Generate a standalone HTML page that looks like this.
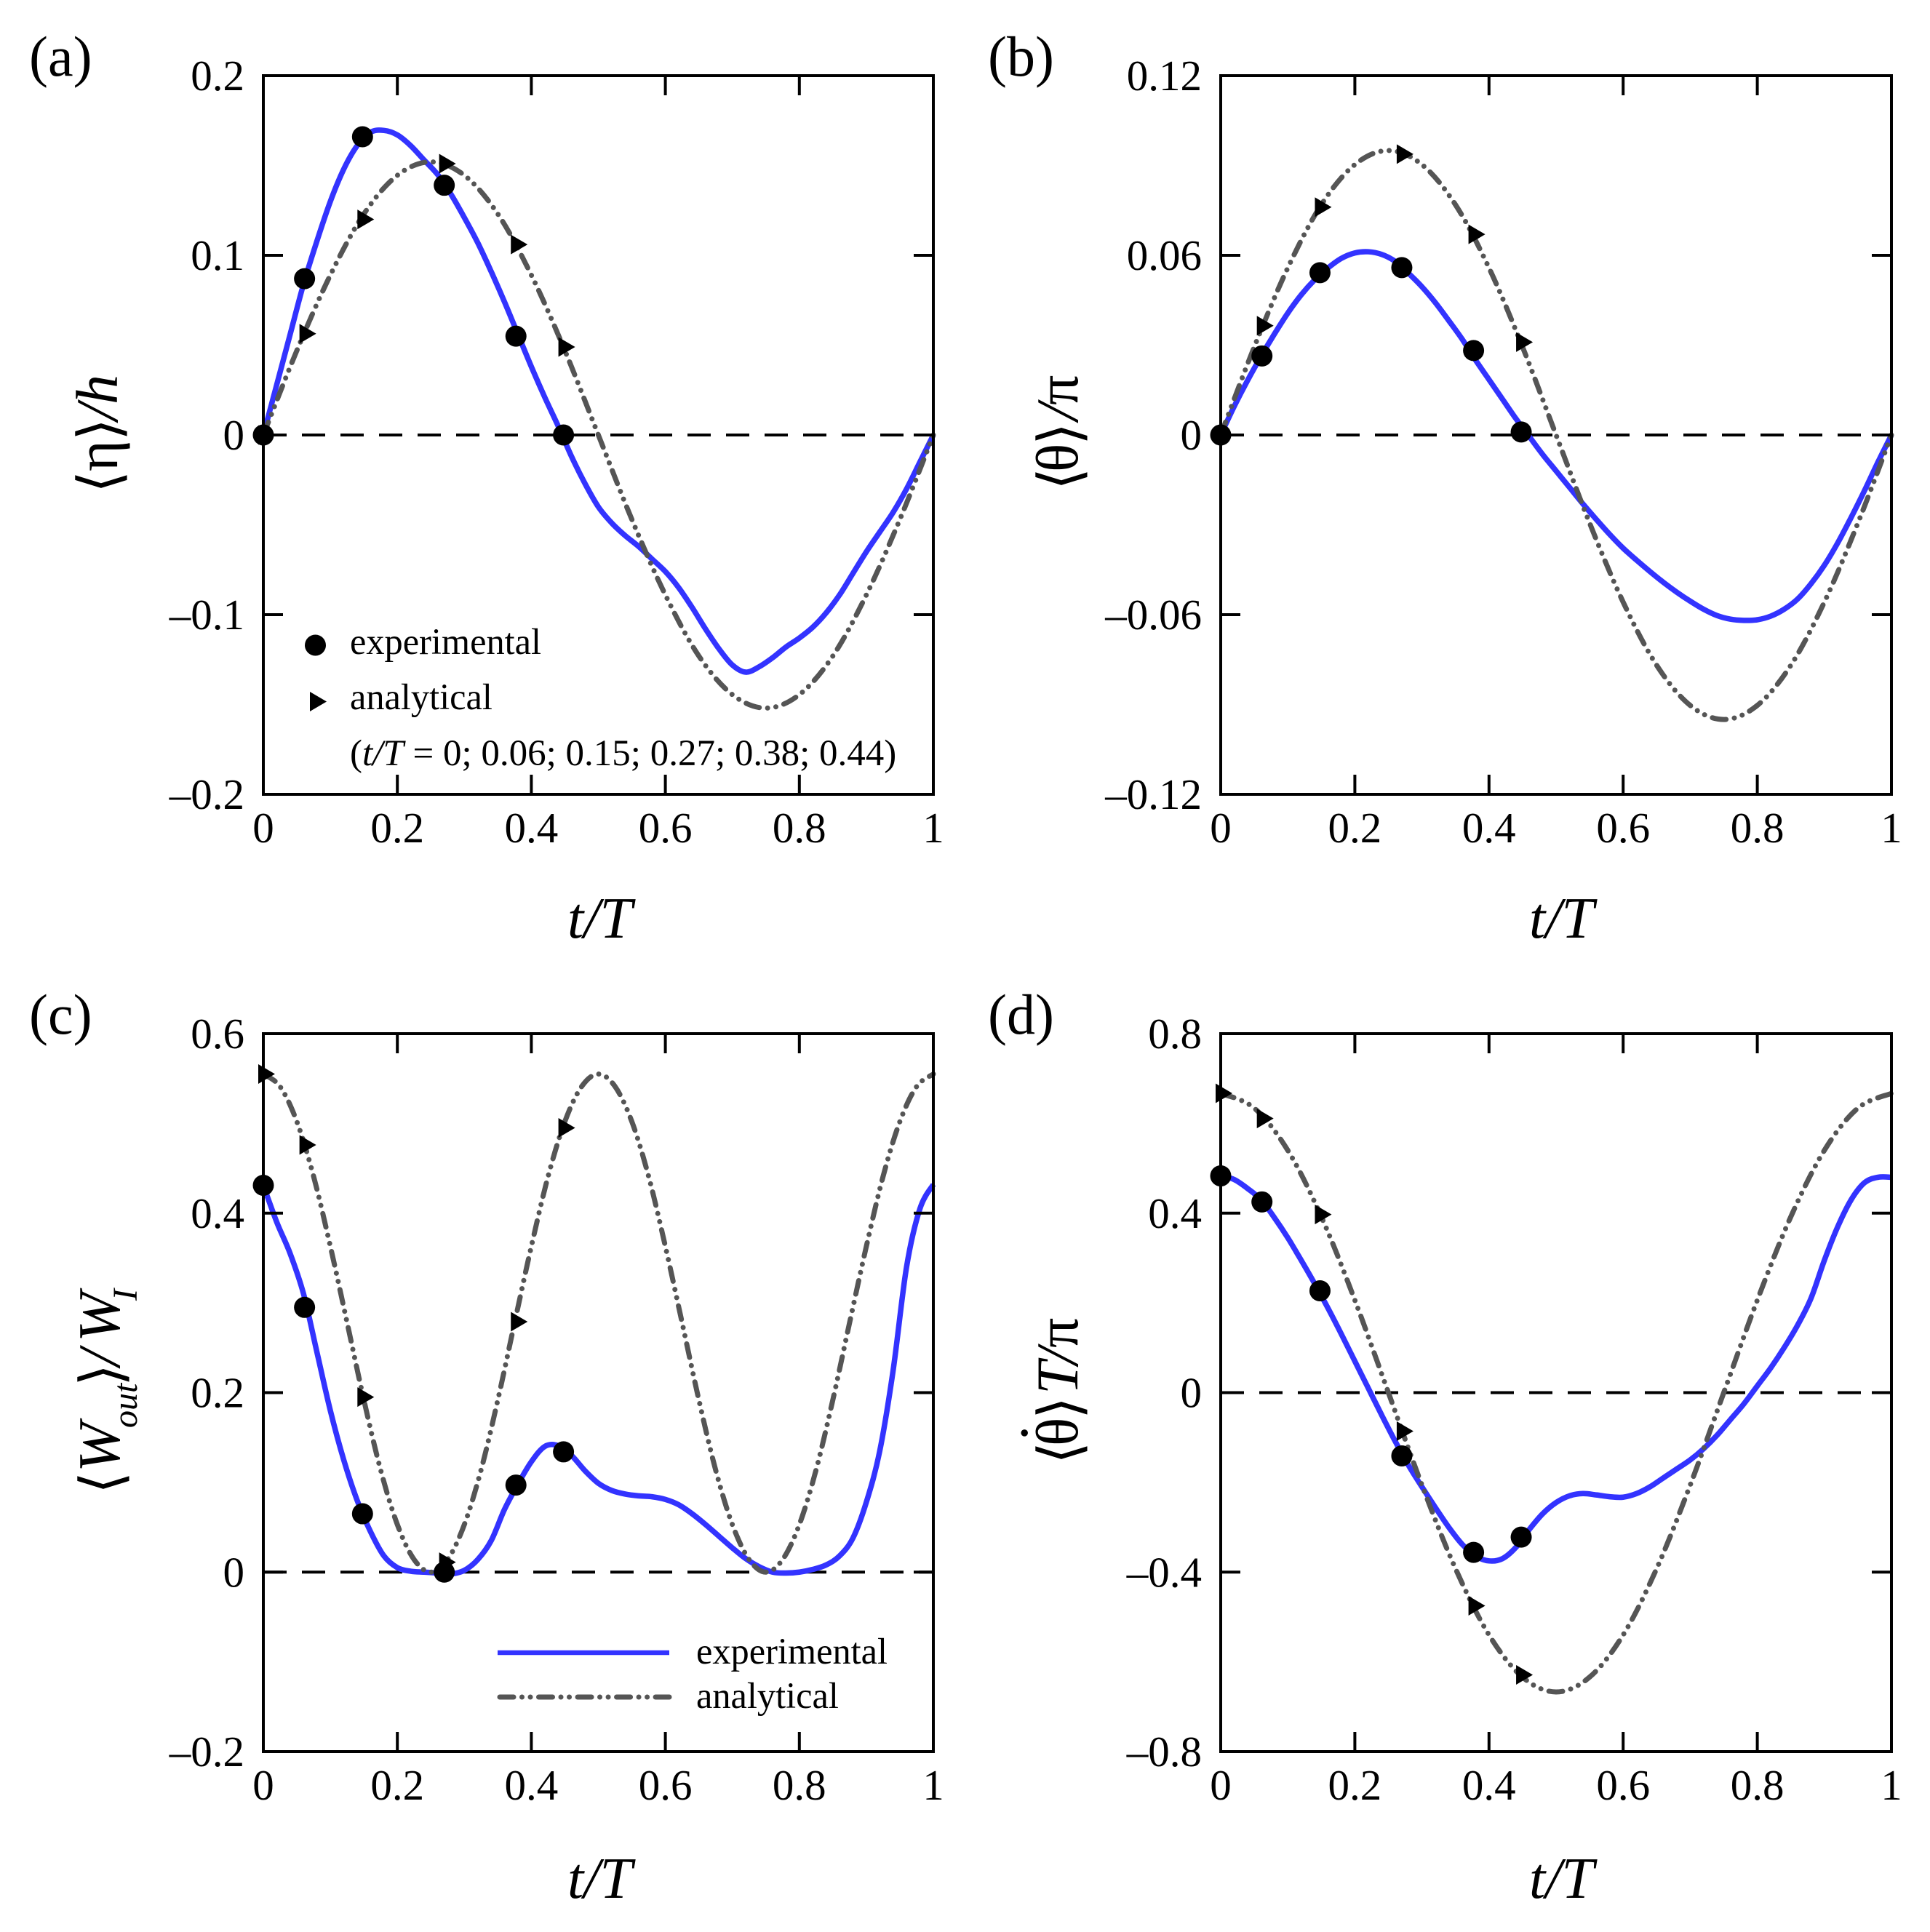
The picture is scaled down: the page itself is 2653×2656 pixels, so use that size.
<!DOCTYPE html>
<html lang="en">
<head>
<meta charset="utf-8">
<title>Four panel time series chart</title>
<style>
html,body{margin:0;padding:0;background:#fff;}
svg{display:block;}
text{font-family:"Liberation Serif","DejaVu Serif",serif;fill:#000;}
.tick-label{font-size:59px;}
.legend-text{font-size:50.4px;}
.legend-note{font-size:51px;}
.panel-label{font-size:78px;}
.axis-label{font-size:80px;font-style:italic;}
.ylab{font-size:82px;}
.br{font-family:"DejaVu Sans",sans-serif;font-size:80px;}
.it{font-style:italic;}
.sub{font-size:48px;font-style:italic;}
</style>
</head>
<body>
<svg id="figure" xmlns="http://www.w3.org/2000/svg" width="2653" height="2656" viewBox="0 0 2653 2656">
<rect x="0" y="0" width="2653" height="2656" fill="#ffffff"/>

<g id="panel-a">
  <text class="panel-label" x="40" y="104">(a)</text>
  <text class="axis-label" x="780" y="1289">t/T</text>
  <text class="ylab" transform="translate(161,678) rotate(-90)"><tspan class="br" x="0" y="3">⟨</tspan><tspan x="30" y="0">η</tspan><tspan class="br" x="72" y="3">⟩</tspan><tspan class="it" x="100" y="0">/</tspan><tspan class="it" x="122" y="0">h</tspan></text>
</g>

<g id="panel-b">
  <text class="panel-label" x="1358" y="104">(b)</text>
  <text class="axis-label" x="2102" y="1289">t/T</text>
  <text class="ylab" transform="translate(1481,674) rotate(-90)"><tspan class="br" x="0" y="3">⟨</tspan><tspan x="25" y="0">θ</tspan><tspan class="br" x="62" y="3">⟩</tspan><tspan class="it" x="96" y="0">/</tspan><tspan x="117" y="0">π</tspan></text>
</g>

<g id="panel-c">
  <text class="panel-label" x="40" y="1421">(c)</text>
  <text class="axis-label" x="780" y="2609">t/T</text>
  <text class="ylab" transform="translate(164,2054) rotate(-90)"><tspan class="br" x="0" y="3">⟨</tspan><tspan class="it" x="30" y="0">W</tspan><tspan class="sub" x="91" y="24">out</tspan><tspan class="br" x="148" y="3">⟩</tspan><tspan class="it" x="176" y="0">/</tspan><tspan class="it" x="209" y="0">W</tspan><tspan class="sub" x="266" y="24">I</tspan></text>
</g>

<g id="panel-d">
  <text class="panel-label" x="1358" y="1421">(d)</text>
  <text class="axis-label" x="2102" y="2609">t/T</text>
  <text class="ylab" transform="translate(1481,2013) rotate(-90)"><tspan class="br" x="0" y="3">⟨</tspan><tspan x="25" y="0">θ</tspan><tspan x="28" y="-18" style="font-size:90px">˙</tspan><tspan class="br" x="62" y="3">⟩</tspan><tspan class="it" x="96" y="0">T</tspan><tspan class="it" x="137" y="0">/</tspan><tspan x="160" y="0">π</tspan></text>
</g>

<g id="overlay"></g>
</svg>

<script>
// Shared axis values
const xDomain = [0, 1];
const xTickValues = [0, 0.2, 0.4, 0.6, 0.8, 1];
const xTickLabels = ["0", "0.2", "0.4", "0.6", "0.8", "1"];

// Sampling instants
const expCurveT = [0,.02,.04,.06,.08,.1,.12,.14,.16,.18,.2,.22,.24,.26,.28,.3,.32,.34,.36,.38,.4,.42,.44,.46,.48,.5,.52,.54,.56,.58,.6,.62,.64,.66,.68,.7,.72,.74,.76,.78,.8,.82,.84,.86,.88,.9,.92,.94,.96,.98,1];
const anaCurveT = [0,.05,.1,.15,.2,.25,.3,.35,.4,.45,.5,.55,.6,.65,.7,.75,.8,.85,.9,.95,1];
const anaCurveTFine = [0,.025,.05,.075,.1,.125,.15,.175,.2,.225,.25,.275,.3,.325,.35,.375,.4,.425,.45,.475,.5,.525,.55,.575,.6,.625,.65,.675,.7,.725,.75,.775,.8,.825,.85,.875,.9,.925,.95,.975,1];
const markerT = [0,.0615,.148,.27,.377,.448];

// Panel a
const yDomainA = [-0.2, 0.2];
const yTickValuesA = [0.2, 0.1, 0, -0.1, -0.2];
const yTickLabelsA = ["0.2", "0.1", "0", "–0.1", "–0.2"];
const expCurveA = [0,.028,.056,.084,.108,.13,.148,.161,.1685,.1695,.167,.161,.153,.145,.134,.121,.107,.091,.074,.056,.038,.021,.005,-.012,-.027,-.04,-.049,-.056,-.062,-.069,-.076,-.085,-.096,-.108,-.119,-.128,-.132,-.129,-.124,-.118,-.113,-.107,-.099,-.089,-.077,-.065,-.054,-.043,-.03,-.015,0];
const anaCurveA = [0,.047,.089,.123,.1445,.152,.1445,.123,.089,.047,0,-.047,-.089,-.123,-.1445,-.152,-.1445,-.123,-.089,-.047,0];
const expMarkA = [0,.087,.166,.139,.055,0];
const anaMarkA = [0,.0564,.12,.151,.106,.049];

// Panel b
const yDomainB = [-0.12, 0.12];
const yTickValuesB = [0.12, 0.06, 0, -0.06, -0.12];
const yTickLabelsB = ["0.12", "0.06", "0", "–0.06", "–0.12"];
const expCurveB = [0,.0095,.0182,.0262,.0337,.0407,.0468,.0518,.0558,.059,.0608,.0612,.0603,.058,.054,.0495,.0442,.0382,.032,.025,.0185,.012,.0055,-.0005,-.0065,-.012,-.0175,-.023,-.0282,-.0332,-.0378,-.0418,-.0456,-.0492,-.0525,-.0555,-.0582,-.0603,-.0615,-.0619,-.0617,-.0605,-.0582,-.0548,-.0497,-.0435,-.036,-.0275,-.0185,-.009,0];
const anaCurveB = [0,.0294,.0558,.0769,.0903,.095,.0903,.0769,.0558,.0294,0,-.0294,-.0558,-.0769,-.0903,-.095,-.0903,-.0769,-.0558,-.0294,0];
const expMarkB = [0,.0264,.0542,.0559,.0282,.001];
const anaMarkB = [0,.0365,.0761,.0938,.067,.031];

// Panel c
const yDomainC = [-0.2, 0.6];
const yTickValuesC = [0.6, 0.4, 0.2, 0, -0.2];
const yTickLabelsC = ["0.6", "0.4", "0.2", "0", "–0.2"];
const expCurveC = [.431,.39,.355,.31,.245,.18,.125,.08,.045,.018,.005,.001,0,-.001,-.002,.002,.014,.035,.07,.098,.123,.14,.141,.13,.113,.099,.091,.087,.085,.084,.081,.075,.065,.053,.04,.027,.015,.006,0,-.001,0,.003,.008,.018,.038,.078,.135,.225,.34,.405,.432];
const anaCurveC = [.555,.541,.502,.441,.363,.278,.192,.114,.053,.014,0,.014,.053,.114,.192,.278,.363,.441,.502,.541,.555,.541,.502,.441,.363,.278,.192,.114,.053,.014,0,.014,.053,.114,.192,.278,.363,.441,.502,.541,.555];
const expMarkC = [.431,.295,.065,0,.097,.134];
const anaMarkC = [.555,.476,.195,.011,.279,.495];

// Panel d
const yDomainD = [-0.8, 0.8];
const yTickValuesD = [0.8, 0.4, 0, -0.4, -0.8];
const yTickLabelsD = ["0.8", "0.4", "0", "–0.4", "–0.8"];
const expCurveD = [.483,.475,.455,.43,.39,.345,.295,.243,.188,.13,.07,.01,-.05,-.108,-.162,-.21,-.256,-.3,-.338,-.364,-.375,-.37,-.345,-.305,-.27,-.245,-.23,-.225,-.228,-.232,-.233,-.225,-.21,-.19,-.17,-.15,-.125,-.095,-.06,-.025,.015,.055,.1,.15,.21,.295,.37,.43,.468,.48,.48];
const anaCurveD = [.667,.634,.54,.392,.206,0,-.206,-.392,-.54,-.634,-.667,-.634,-.54,-.392,-.206,0,.206,.392,.54,.634,.667];
const expMarkD = [.483,.425,.227,-.141,-.356,-.322];
const anaMarkD = [.667,.611,.397,-.086,-.475,-.629];

const SVGNS = "http://www.w3.org/2000/svg";
const BLUE = "#3333ff";
const GRAY = "#555555";
const DASH = "19 11.5 0.01 11.5 0.01 11.5";

function mk(tag, parent) {
  const el = document.createElementNS(SVGNS, tag);
  parent.appendChild(el);
  return el;
}

function linearScale(domain, r0, r1) {
  return function (v) {
    return r0 + (v - domain[0]) / (domain[1] - domain[0]) * (r1 - r0);
  };
}

function smoothPath(ts, vs, sx, sy) {
  const pts = ts.map(function (t, i) { return [sx(t), sy(vs[i])]; });
  let d = "M" + pts[0][0].toFixed(2) + " " + pts[0][1].toFixed(2);
  for (let i = 0; i < pts.length - 1; i++) {
    const p0 = pts[Math.max(i - 1, 0)];
    const p1 = pts[i];
    const p2 = pts[i + 1];
    const p3 = pts[Math.min(i + 2, pts.length - 1)];
    const c1x = p1[0] + (p2[0] - p0[0]) / 6;
    const c1y = p1[1] + (p2[1] - p0[1]) / 6;
    const c2x = p2[0] - (p3[0] - p1[0]) / 6;
    const c2y = p2[1] - (p3[1] - p1[1]) / 6;
    d += "C" + c1x.toFixed(2) + " " + c1y.toFixed(2) + " " + c2x.toFixed(2) + " " + c2y.toFixed(2) + " " + p2[0].toFixed(2) + " " + p2[1].toFixed(2);
  }
  return d;
}

function drawPanel(cfg) {
  const g = document.getElementById(cfg.id);
  const sx = linearScale(xDomain, cfg.left, cfg.right);
  const sy = linearScale(cfg.yDomain, cfg.bottom, cfg.top);

  // zero reference line
  const zero = mk("line", g);
  
  
  zero.setAttribute("x1", sx(0));
  zero.setAttribute("x2", sx(1));
  zero.setAttribute("y1", sy(0));
  zero.setAttribute("y2", sy(0));
  zero.setAttribute("stroke", "#000");
  zero.setAttribute("stroke-width", "4");
  zero.setAttribute("stroke-dasharray", "32 21");

  // series curves
  const expLine = mk("path", g);
  
  
  expLine.setAttribute("d", smoothPath(expCurveT, cfg.expCurve, sx, sy));
  expLine.setAttribute("fill", "none");
  expLine.setAttribute("stroke", BLUE);
  expLine.setAttribute("stroke-width", "7.5");
  expLine.setAttribute("stroke-linejoin", "round");

  const anaLine = mk("path", g);
  
  
  anaLine.setAttribute("d", smoothPath(cfg.anaT, cfg.anaCurve, sx, sy));
  anaLine.setAttribute("fill", "none");
  anaLine.setAttribute("stroke", GRAY);
  anaLine.setAttribute("stroke-width", "7");
  anaLine.setAttribute("stroke-linecap", "round");
  anaLine.setAttribute("stroke-dasharray", DASH);

  // frame
  const frame = mk("rect", g);
  
  
  frame.setAttribute("x", cfg.left);
  frame.setAttribute("y", cfg.top);
  frame.setAttribute("width", cfg.right - cfg.left);
  frame.setAttribute("height", cfg.bottom - cfg.top);
  frame.setAttribute("fill", "none");
  frame.setAttribute("stroke", "#000");
  frame.setAttribute("stroke-width", "4");

  // x ticks and labels
  xTickValues.forEach(function (v, i) {
    if (v > xDomain[0] && v < xDomain[1]) {
      [[cfg.bottom, cfg.bottom - 27], [cfg.top, cfg.top + 27]].forEach(function (ends) {
        const tick = mk("line", g);
        
        
        tick.setAttribute("x1", sx(v));
        tick.setAttribute("x2", sx(v));
        tick.setAttribute("y1", ends[0]);
        tick.setAttribute("y2", ends[1]);
        tick.setAttribute("stroke", "#000");
        tick.setAttribute("stroke-width", "4");
      });
    }
    const label = mk("text", g);
    
    
    label.setAttribute("class", "tick-label");
    label.setAttribute("x", sx(v));
    label.setAttribute("y", cfg.bottom + 66);
    label.setAttribute("text-anchor", "middle");
    label.textContent = xTickLabels[i];
  });

  // y ticks and labels
  cfg.yTicks.forEach(function (v, i) {
    if (v > cfg.yDomain[0] && v < cfg.yDomain[1]) {
      [[cfg.left, cfg.left + 27], [cfg.right, cfg.right - 27]].forEach(function (ends) {
        const tick = mk("line", g);
        
        
        tick.setAttribute("x1", ends[0]);
        tick.setAttribute("x2", ends[1]);
        tick.setAttribute("y1", sy(v));
        tick.setAttribute("y2", sy(v));
        tick.setAttribute("stroke", "#000");
        tick.setAttribute("stroke-width", "4");
      });
    }
    const label = mk("text", g);
    
    
    label.setAttribute("class", "tick-label");
    label.setAttribute("x", cfg.left - 26);
    label.setAttribute("y", sy(v) + 20);
    label.setAttribute("text-anchor", "end");
    label.textContent = cfg.yLabels[i];
  });

  // analytical markers
  markerT.forEach(function (t, i) {
    const x = sx(t);
    const y = sy(cfg.anaMark[i]);
    const tri = mk("polygon", g);
    
    
    tri.setAttribute("points", (x - 7) + "," + (y - 13.5) + " " + (x - 7) + "," + (y + 13.5) + " " + (x + 16) + "," + y);
    tri.setAttribute("fill", "#000");
  });

  // experimental markers
  markerT.forEach(function (t, i) {
    const dot = mk("circle", g);
    
    
    dot.setAttribute("cx", sx(t));
    dot.setAttribute("cy", sy(cfg.expMark[i]));
    dot.setAttribute("r", "14.5");
    dot.setAttribute("fill", "#000");
  });
}

drawPanel({ id: "panel-a", left: 362, right: 1283, top: 104, bottom: 1092, yDomain: yDomainA, yTicks: yTickValuesA, yLabels: yTickLabelsA, expCurve: expCurveA, anaT: anaCurveT, anaCurve: anaCurveA, expMark: expMarkA, anaMark: anaMarkA });
drawPanel({ id: "panel-b", left: 1678, right: 2600, top: 104, bottom: 1092, yDomain: yDomainB, yTicks: yTickValuesB, yLabels: yTickLabelsB, expCurve: expCurveB, anaT: anaCurveT, anaCurve: anaCurveB, expMark: expMarkB, anaMark: anaMarkB });
drawPanel({ id: "panel-c", left: 362, right: 1283, top: 1421, bottom: 2408, yDomain: yDomainC, yTicks: yTickValuesC, yLabels: yTickLabelsC, expCurve: expCurveC, anaT: anaCurveTFine, anaCurve: anaCurveC, expMark: expMarkC, anaMark: anaMarkC });
drawPanel({ id: "panel-d", left: 1678, right: 2600, top: 1421, bottom: 2408, yDomain: yDomainD, yTicks: yTickValuesD, yLabels: yTickLabelsD, expCurve: expCurveD, anaT: anaCurveT, anaCurve: anaCurveD, expMark: expMarkD, anaMark: anaMarkD });
</script>

<script>
// Legends are appended last so they sit above the plot frames.
(function () {
  const host = document.getElementById("overlay");
  host.innerHTML =
    '<g>' +
    '<circle cx="433.5" cy="887" r="14.5" fill="#000"/>' +
    '<polygon points="426,951 426,978 449,964.5" fill="#000"/>' +
    '<text class="legend-text" x="481" y="899">experimental</text>' +
    '<text class="legend-text" x="481" y="975">analytical</text>' +
    '<text class="legend-note" x="481" y="1052">(<tspan font-style="italic">t/T</tspan> = 0; 0.06; 0.15; 0.27; 0.38; 0.44)</text>' +
    '</g>' +
    '<g>' +
    '<line x1="684" x2="920" y1="2272" y2="2272" stroke="#3333ff" stroke-width="6.5"/>' +
    '<line x1="687" x2="920" y1="2333" y2="2333" stroke="#555555" stroke-width="7" stroke-linecap="round" stroke-dasharray="19 11.5 0.01 11.5 0.01 11.5"/>' +
    '<text class="legend-text" x="957" y="2287">experimental</text>' +
    '<text class="legend-text" x="957" y="2348">analytical</text>' +
    '</g>';
})();
</script>
</body>
</html>
